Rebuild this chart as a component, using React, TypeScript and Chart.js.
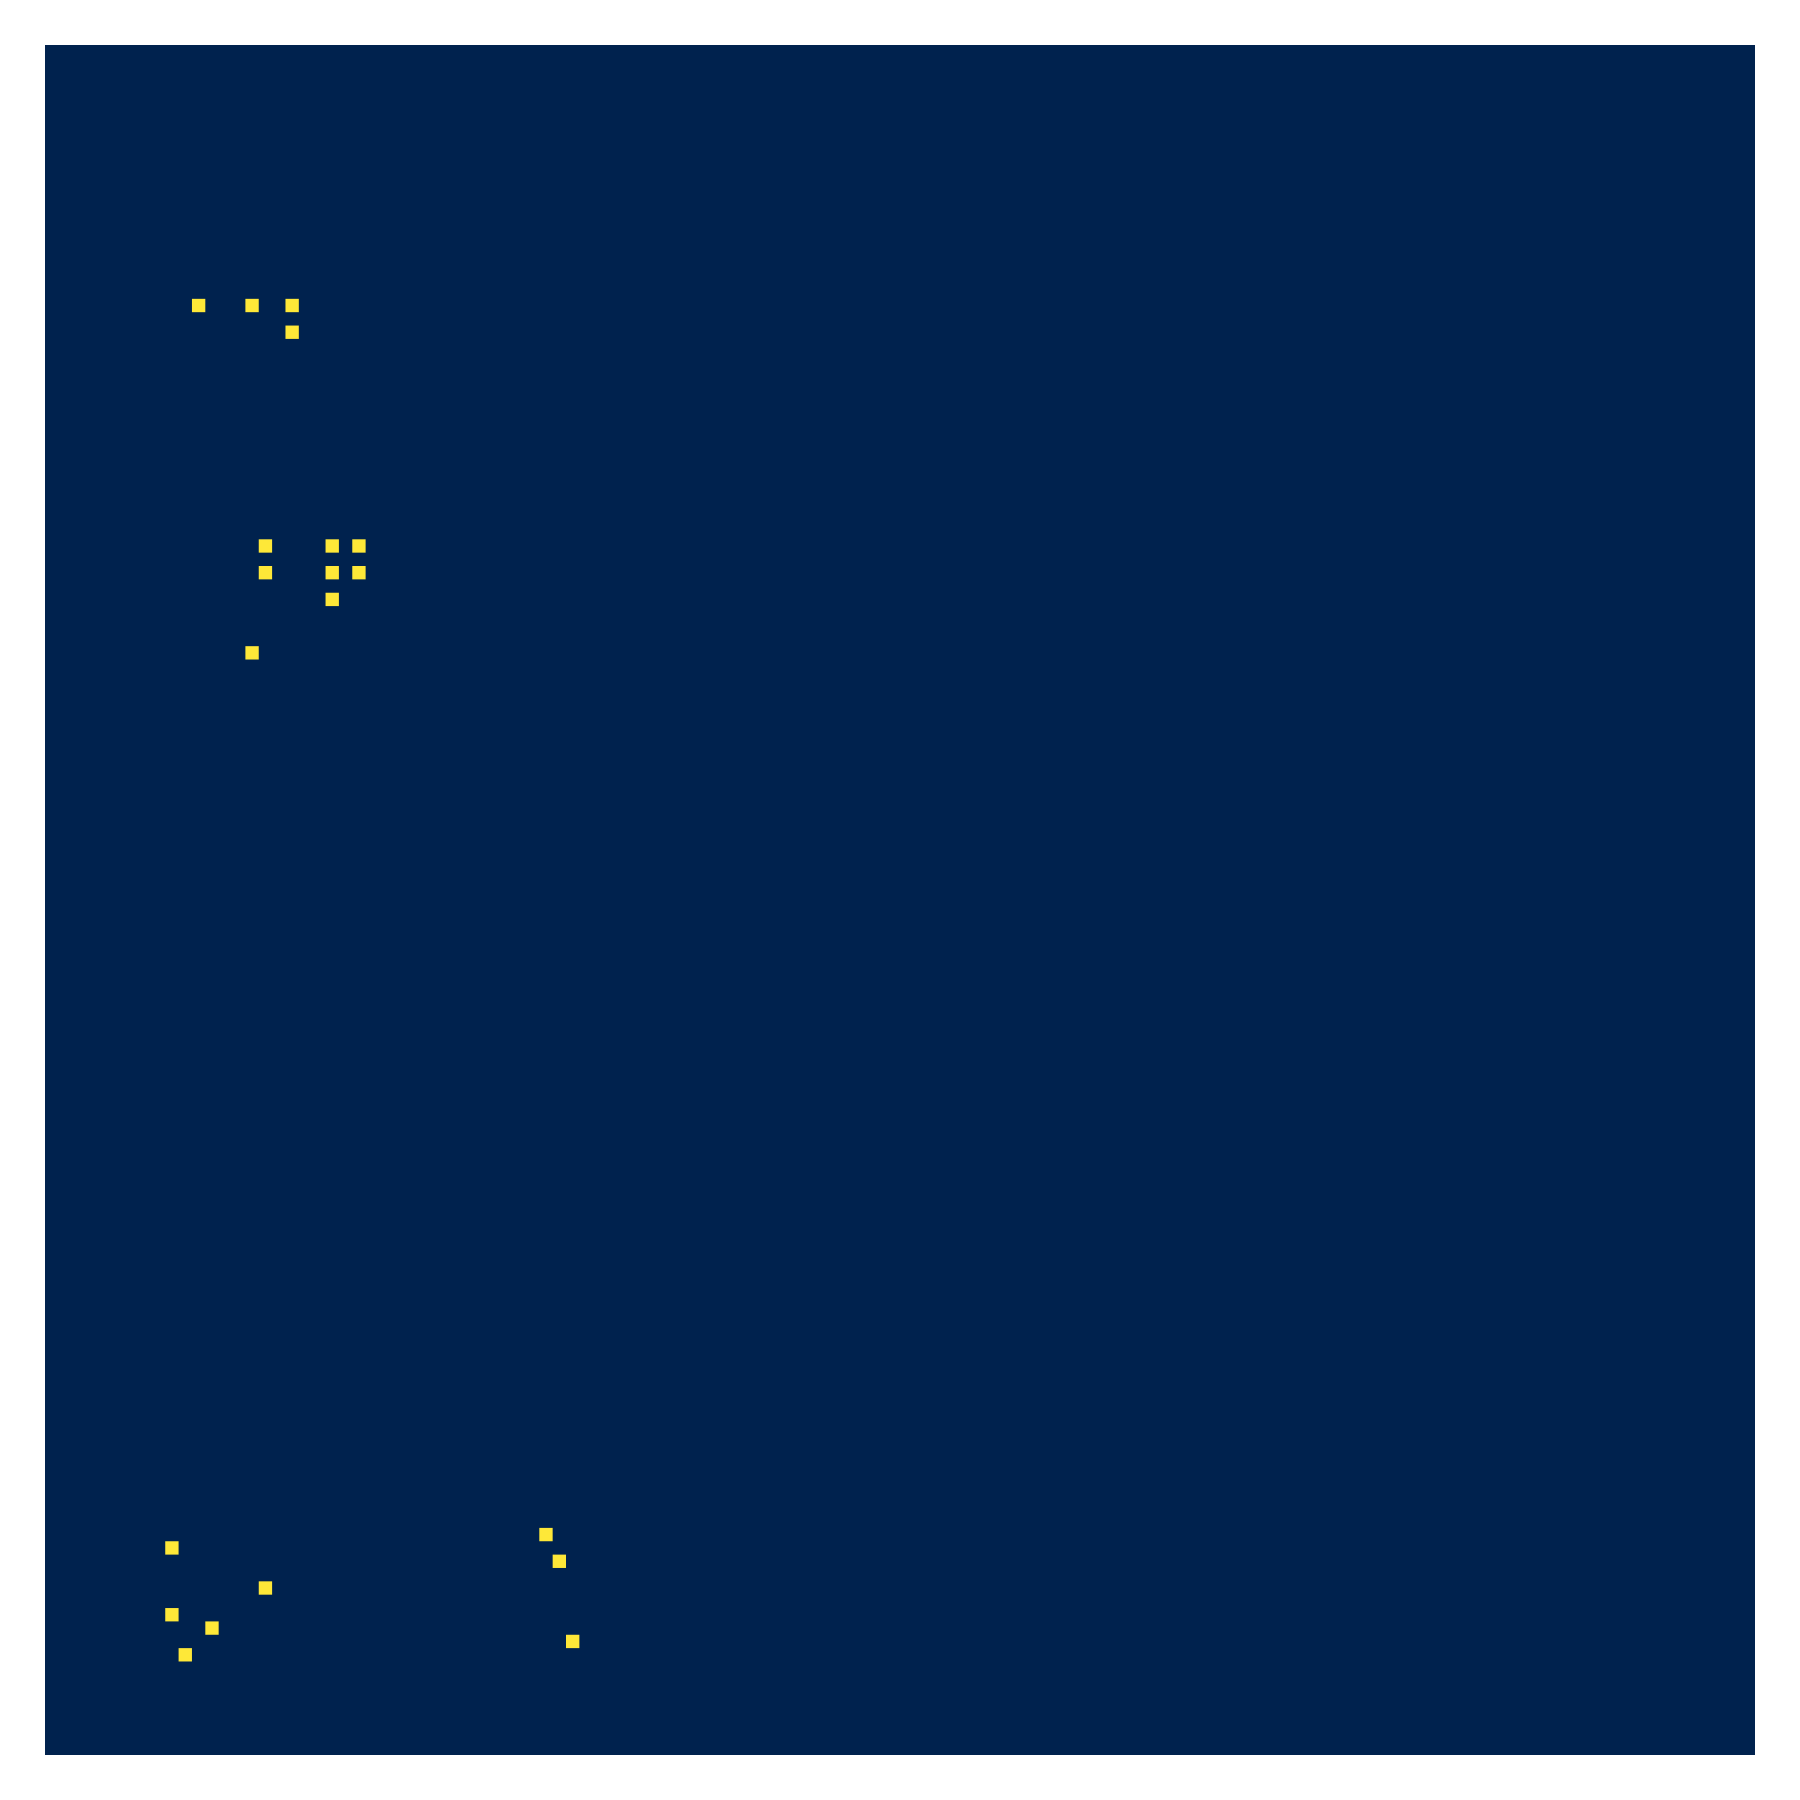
import React, { useEffect, useRef } from "react";
import { Chart, registerables } from "chart.js";

Chart.register(...registerables);

const gridSize = 128;
const cellRows = [19, 19, 19, 21, 37, 37, 37, 39, 39, 39, 41, 45, 111, 112, 113, 115, 117, 118, 119, 120];
const cellCols = [11, 15, 18, 18, 16, 21, 23, 16, 21, 23, 21, 15, 37, 9, 38, 16, 9, 12, 39, 10];
const lowColor = "#00224e";
const highColor = "#fee838";

const bgPlugin = {
  id: "heatBg",
  beforeDatasetsDraw(chart: any) {
    const { ctx, chartArea } = chart;
    ctx.save();
    ctx.fillStyle = lowColor;
    ctx.fillRect(chartArea.left, chartArea.top, chartArea.right - chartArea.left, chartArea.bottom - chartArea.top);
    ctx.restore();
  },
};

export default function App() {
  const ref = useRef<HTMLCanvasElement | null>(null);
  useEffect(() => {
    if (!ref.current) return;
    const data = cellRows.map((r, i) => ({ x: cellCols[i] + 0.5, y: r + 0.5 }));
    const cellRadius = (ctx: any) => {
      const xs = ctx.chart.scales.x;
      if (!xs) return 9;
      const w = Math.abs(xs.getPixelForValue(1) - xs.getPixelForValue(0));
      return w / Math.SQRT2;
    };
    const chart = new Chart(ref.current, {
      type: "scatter",
      data: {
        datasets: [
          {
            data,
            pointStyle: "rect",
            backgroundColor: highColor,
            borderWidth: 0,
            pointRadius: cellRadius,
            pointHoverRadius: cellRadius,
          },
        ],
      },
      options: {
        responsive: false,
        animation: false,
        devicePixelRatio: 1,
        layout: { padding: { left: 45, top: 45, right: 45, bottom: 45 } },
        plugins: { legend: { display: false }, tooltip: { enabled: false } },
        scales: {
          x: { type: "linear", min: 0, max: gridSize, display: false },
          y: { type: "linear", min: 0, max: gridSize, reverse: true, display: false },
        },
      },
      plugins: [bgPlugin],
    });
    return () => chart.destroy();
  }, []);
  return (
    <div style={{ position: "fixed", left: 0, top: 0, width: 1800, height: 1800, background: "#ffffff" }}>
      <canvas ref={ref} width={1800} height={1800} style={{ width: 1800, height: 1800, display: "block" }} />
    </div>
  );
}
